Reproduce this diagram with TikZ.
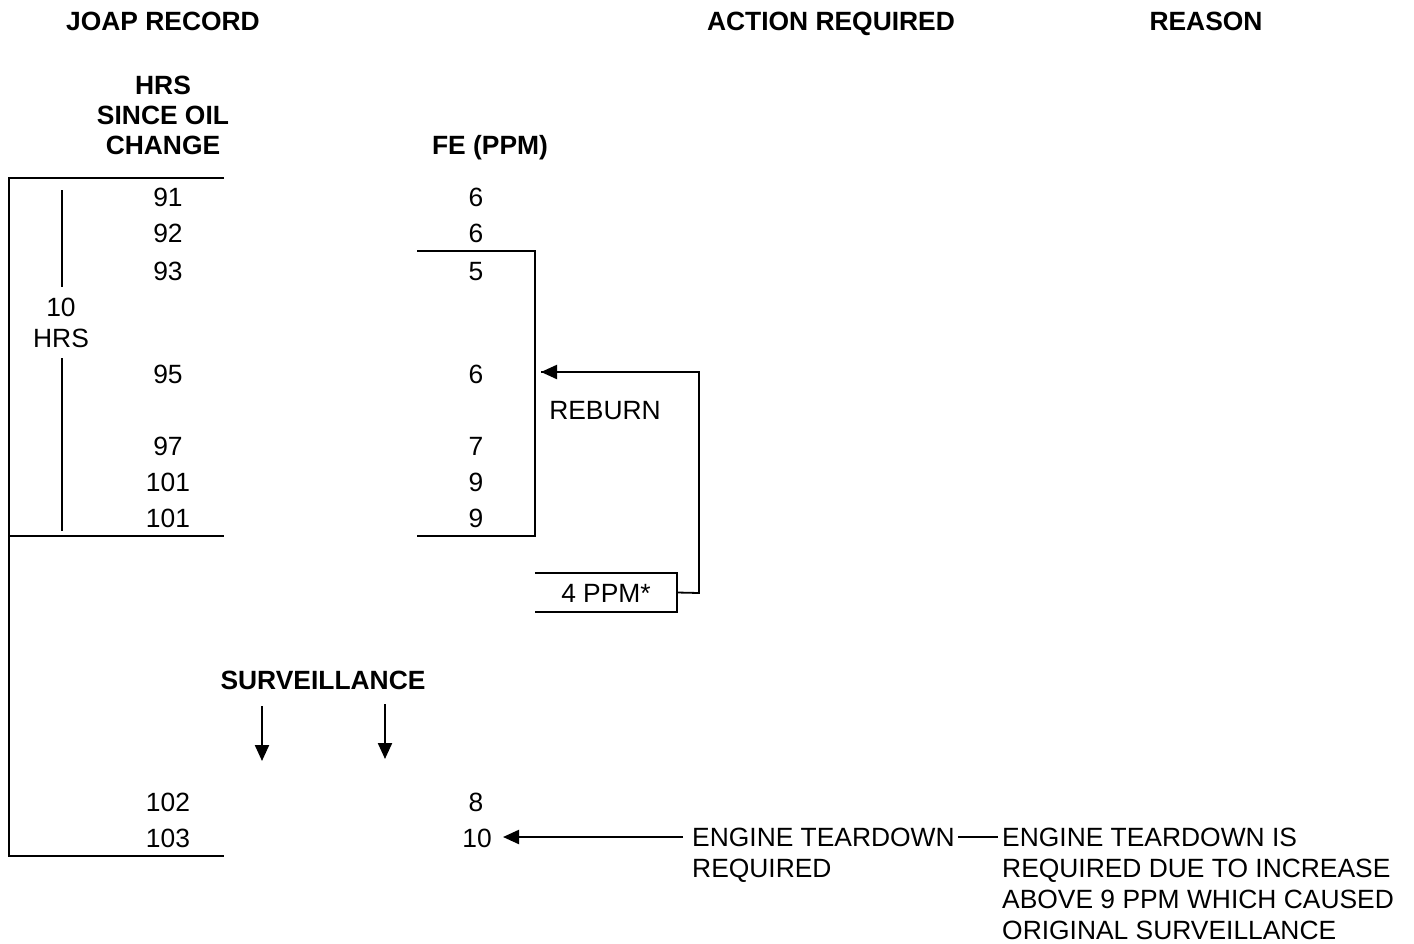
\documentclass[tikz,border=0pt]{standalone}
\usepackage{fontspec}
\setmainfont{Liberation Sans}
\usetikzlibrary{arrows.meta}
\begin{document}
\begin{tikzpicture}[x=1pt,y=-1pt,
  txt/.style={inner sep=0pt,font=\fontsize{26.4}{31}\selectfont,text height=19pt,text depth=0pt},
  hd/.style={txt,font=\fontsize{26.4}{31}\selectfont\bfseries},
  multi/.style={inner sep=0pt,font=\fontsize{26.4}{31}\selectfont},
  rule/.style={line width=1.8pt},
  thin/.style={line width=1.3pt},
  arr/.style={line width=2.2pt,-{Triangle[length=16pt,width=14pt]}}]
\useasboundingbox (0,0) rectangle (1414,943);
% headings
\node[hd] (h1) at (163,21) {JOAP RECORD};
\node[hd] (h2) at (831,21) {ACTION REQUIRED};
\node[hd] (h3) at (1206,21) {REASON};
\node[multi,font=\fontsize{26.4}{30}\selectfont\bfseries,align=center,anchor=north] (hrs) at (163,75.5) {HRS\\SINCE OIL\\CHANGE};
\node[hd] (fe) at (490,145) {FE (PPM)};
% hours column
\node[txt] (a1) at (168,197) {91};
\node[txt] (a2) at (168,233) {92};
\node[txt] (a3) at (168,271) {93};
\node[txt] (a4) at (168,374) {95};
\node[txt] (a5) at (168,446) {97};
\node[txt] (a6) at (168,482) {101};
\node[txt] (a7) at (168,518) {101};
\node[txt] (a8) at (168,802) {102};
\node[txt] (a9) at (168,838) {103};
% fe column
\node[txt] (b1) at (476,197) {6};
\node[txt] (b2) at (476,233) {6};
\node[txt] (b3) at (476,271) {5};
\node[txt] (b4) at (476,374) {6};
\node[txt] (b5) at (476,446) {7};
\node[txt] (b6) at (476,482) {9};
\node[txt] (b7) at (476,518) {9};
\node[txt] (b8) at (476,802) {8};
\node[txt] (b9) at (477,838) {10};
% 10 HRS
\node[multi,align=center,anchor=north] (ten) at (61,297.5) {10\\HRS};
\coordinate (t1) at (62,190);
\coordinate (t2) at (62,287);
\coordinate (t3) at (62,358);
\coordinate (t4) at (62,531);
\draw[thin] (t1) -- (t2);
\draw[thin] (t3) -- (t4);
% left bracket
\coordinate (L0) at (224,178);
\coordinate (L1) at (9,178);
\coordinate (L2) at (9,856);
\coordinate (L3) at (224,856);
\coordinate (Lm) at (9,536);
\coordinate (Lm2) at (224,536);
\draw[rule] (L0) -- (L1) -- (L2) -- (L3);
\draw[rule] (Lm) -- (Lm2);
% right bracket
\coordinate (R0) at (417,251);
\coordinate (R1) at (535,251);
\coordinate (R2) at (535,536);
\coordinate (R3) at (417,536);
\draw[rule] (R0) -- (R1) -- (R2) -- (R3);
% reburn
\node[txt] (reburn) at (605,410) {REBURN};
\node[txt,minimum width=142pt,minimum height=39pt,text height=19pt] (ppm) at (606,592.5) {4 PPM*};
\draw[rule] (ppm.north west) -- (ppm.north east) -- (ppm.south east) -- (ppm.south west);
\coordinate (c1) at (699,593);
\coordinate (c2) at (699,372);
\coordinate (c3) at (541,372);
\draw[rule] (ppm.east) -- (c1) -- (c2) -- (c3);
\draw[arr] (c2) -- (c3);
% surveillance
\node[hd] (surv) at (323,680) {SURVEILLANCE};
\coordinate (s1) at (262,706);
\coordinate (s2) at (262,761);
\coordinate (s3) at (385,704);
\coordinate (s4) at (385,759);
\draw[arr] (s1) -- (s2);
\draw[arr] (s3) -- (s4);
% teardown
\node[multi,align=left,anchor=north west] (act) at (692,827.5) {ENGINE TEARDOWN\\REQUIRED};
\node[multi,align=left,anchor=north west] (rsn) at (1002,827.5) {ENGINE TEARDOWN IS\\REQUIRED DUE TO INCREASE\\ABOVE 9 PPM WHICH CAUSED\\ORIGINAL SURVEILLANCE};
\coordinate (e1) at (683,837);
\coordinate (e2) at (503,837);
\draw[arr] (e1) -- (e2);
\coordinate (d1) at (958,837);
\coordinate (d2) at (998,837);
\draw[thin] (d1) -- (d2);
\end{tikzpicture}
\end{document}
